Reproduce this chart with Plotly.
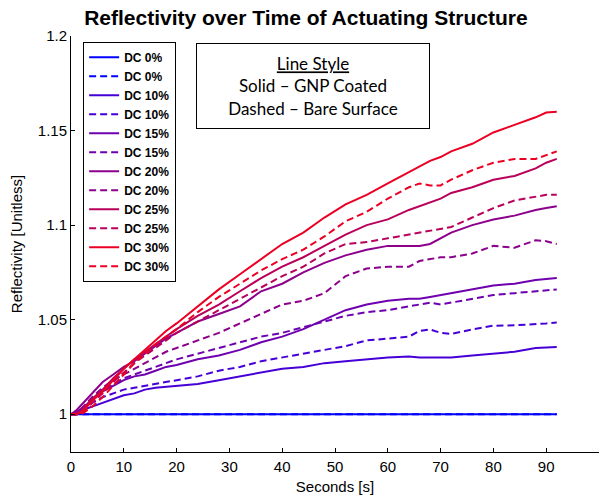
import plotly.graph_objects as go

# time axis [s]
time_s = [0, 1, 2, 3, 4, 6, 8, 10, 12, 14, 16, 18, 20, 24, 28, 32, 36, 40, 44, 48,
          52, 56, 60, 64, 66, 68, 70, 72, 76, 80, 84, 88, 90, 92]

dc0_solid = [1.0] * len(time_s)
dc0_dashed = [1.0] * len(time_s)
dc10_solid = [1.000, 1.000, 1.001, 1.003, 1.004, 1.006, 1.008, 1.010, 1.011, 1.013, 1.014, 1.0145,
              1.015, 1.016, 1.018, 1.020, 1.022, 1.024, 1.025, 1.027, 1.028, 1.029, 1.030, 1.0305,
              1.030, 1.030, 1.030, 1.030, 1.031, 1.032, 1.033, 1.035, 1.0352, 1.0355]
dc10_dashed = [1.000, 1.000, 1.002, 1.004, 1.006, 1.009, 1.011, 1.013, 1.014, 1.015, 1.016, 1.017,
               1.018, 1.020, 1.023, 1.025, 1.028, 1.030, 1.032, 1.034, 1.036, 1.039, 1.040, 1.041,
               1.044, 1.0448, 1.043, 1.0425, 1.0448, 1.0468, 1.047, 1.0475, 1.048, 1.0485]
dc15_solid = [1.000, 1.001, 1.003, 1.005, 1.008, 1.012, 1.015, 1.018, 1.020, 1.021, 1.023, 1.025,
              1.026, 1.029, 1.031, 1.034, 1.038, 1.041, 1.045, 1.050, 1.055, 1.058, 1.060, 1.061,
              1.061, 1.062, 1.063, 1.064, 1.066, 1.068, 1.069, 1.071, 1.0715, 1.072]
dc15_dashed = [1.000, 1.000, 1.002, 1.004, 1.007, 1.012, 1.016, 1.019, 1.021, 1.023, 1.025, 1.027,
               1.029, 1.032, 1.035, 1.038, 1.041, 1.043, 1.046, 1.049, 1.052, 1.054, 1.055, 1.057,
               1.058, 1.059, 1.058, 1.059, 1.061, 1.063, 1.064, 1.065, 1.0655, 1.066]
dc20_solid = [1.000, 1.002, 1.005, 1.008, 1.011, 1.017, 1.021, 1.025, 1.028, 1.032, 1.036, 1.040,
              1.043, 1.049, 1.053, 1.057, 1.065, 1.069, 1.075, 1.080, 1.084, 1.087, 1.089, 1.089,
              1.089, 1.090, 1.093, 1.096, 1.100, 1.103, 1.105, 1.108, 1.109, 1.110]
dc20_dashed = [1.000, 1.001, 1.003, 1.006, 1.009, 1.014, 1.018, 1.021, 1.024, 1.027, 1.030, 1.033,
               1.035, 1.039, 1.043, 1.048, 1.053, 1.058, 1.060, 1.064, 1.073, 1.077, 1.078, 1.078,
               1.081, 1.082, 1.083, 1.083, 1.085, 1.089, 1.088, 1.092, 1.0915, 1.090]
dc25_solid = [1.000, 1.000, 1.002, 1.005, 1.008, 1.013, 1.019, 1.024, 1.029, 1.033, 1.037, 1.041,
              1.045, 1.052, 1.058, 1.065, 1.072, 1.078, 1.083, 1.089, 1.095, 1.100, 1.103, 1.108,
              1.110, 1.112, 1.114, 1.117, 1.120, 1.124, 1.126, 1.130, 1.133, 1.135]
dc25_dashed = [1.000, 1.000, 1.001, 1.003, 1.006, 1.011, 1.017, 1.022, 1.027, 1.031, 1.035, 1.039,
               1.043, 1.049, 1.055, 1.061, 1.067, 1.073, 1.078, 1.085, 1.090, 1.091, 1.093, 1.095,
               1.096, 1.097, 1.098, 1.099, 1.104, 1.109, 1.113, 1.115, 1.116, 1.116]
dc30_solid = [1.000, 1.000, 1.001, 1.004, 1.007, 1.012, 1.018, 1.024, 1.029, 1.034, 1.039, 1.044,
              1.048, 1.057, 1.066, 1.074, 1.082, 1.090, 1.096, 1.104, 1.111, 1.116, 1.122, 1.128,
              1.131, 1.134, 1.136, 1.139, 1.143, 1.149, 1.153, 1.157, 1.1595, 1.160]
dc30_dashed = [1.000, 1.000, 1.000, 1.002, 1.004, 1.009, 1.015, 1.021, 1.027, 1.032, 1.037, 1.041,
               1.045, 1.054, 1.062, 1.069, 1.076, 1.082, 1.087, 1.094, 1.102, 1.107, 1.114, 1.120,
               1.122, 1.121, 1.121, 1.124, 1.129, 1.133, 1.135, 1.135, 1.137, 1.139]

labels = ["DC 0%", "DC 10%", "DC 15%", "DC 20%", "DC 25%", "DC 30%"]
solid_series = [dc0_solid, dc10_solid, dc15_solid, dc20_solid, dc25_solid, dc30_solid]
dashed_series = [dc0_dashed, dc10_dashed, dc15_dashed, dc20_dashed, dc25_dashed, dc30_dashed]
colors = ["rgb(0,0,255)", "rgb(70,0,215)", "rgb(110,0,175)", "rgb(140,0,140)",
          "rgb(185,0,90)", "rgb(235,0,35)"]

FONT = "Liberation Sans"

fig = go.Figure()
for lab, s, d, c in zip(labels, solid_series, dashed_series, colors):
    fig.add_trace(go.Scatter(x=time_s, y=s, mode="lines", name=lab,
                             line=dict(color=c, width=2, dash="solid")))
    fig.add_trace(go.Scatter(x=time_s, y=d, mode="lines", name=lab,
                             line=dict(color=c, width=2, dash="7px,4px")))

# the page body adds an 8px offset, so the figure is 8px smaller on each axis
fig.update_layout(
    width=603, height=493,
    margin=dict(l=63, r=12, t=28, b=49),
    paper_bgcolor="white", plot_bgcolor="white",
    font=dict(family=FONT, size=15, color="black"),
    title=dict(text="<b>Reflectivity over Time of Actuating Structure</b>",
               x=0.494, xref="container", xanchor="center",
               y=0.981, yref="container", yanchor="middle",
               font=dict(family=FONT, size=21, color="black")),
    legend=dict(x=0.023, y=0.986, xanchor="left", yanchor="top",
                bgcolor="white", bordercolor="black", borderwidth=1,
                font=dict(family=FONT, size=12, color="black", weight="bold"),
                itemwidth=30, tracegroupgap=0),
    showlegend=True,
)
fig.update_xaxes(range=[0, 100], tickvals=[0, 10, 20, 30, 40, 50, 60, 70, 80, 90, 100],
                 showline=True, linecolor="black", linewidth=1, mirror=False, automargin=False,
                 ticks="inside", ticklen=4, tickcolor="black", showgrid=False, zeroline=False,
                 ticklabelstandoff=1,
                 title=dict(text="Seconds [s]", standoff=7, font=dict(family=FONT, size=15)),
                 tickfont=dict(family=FONT, size=15))
fig.update_yaxes(range=[0.98, 1.2], tickvals=[1, 1.05, 1.1, 1.15, 1.2],
                 ticktext=["1", "1.05", "1.1", "1.15", "1.2"],
                 showline=True, linecolor="black", linewidth=1, mirror=False, automargin=False,
                 ticks="inside", ticklen=4, tickcolor="black", showgrid=False, zeroline=False,
                 title=dict(text="Reflectivity [Unitless]", standoff=19, font=dict(family=FONT, size=15)),
                 tickfont=dict(family=FONT, size=15))

fig.add_annotation(
    xref="paper", yref="paper", x=0.459, y=0.881, xanchor="center", yanchor="middle",
    text="<u>Line Style</u><br>Solid – GNP Coated<br>Dashed – Bare Surface",
    showarrow=False, align="center",
    font=dict(family="Lato, 'Open Sans', sans-serif", size=17, color="black"),
    bordercolor="black", borderwidth=1, borderpad=4, bgcolor="white",
    width=224, height=76,
)

fig.write_html("out.html")
